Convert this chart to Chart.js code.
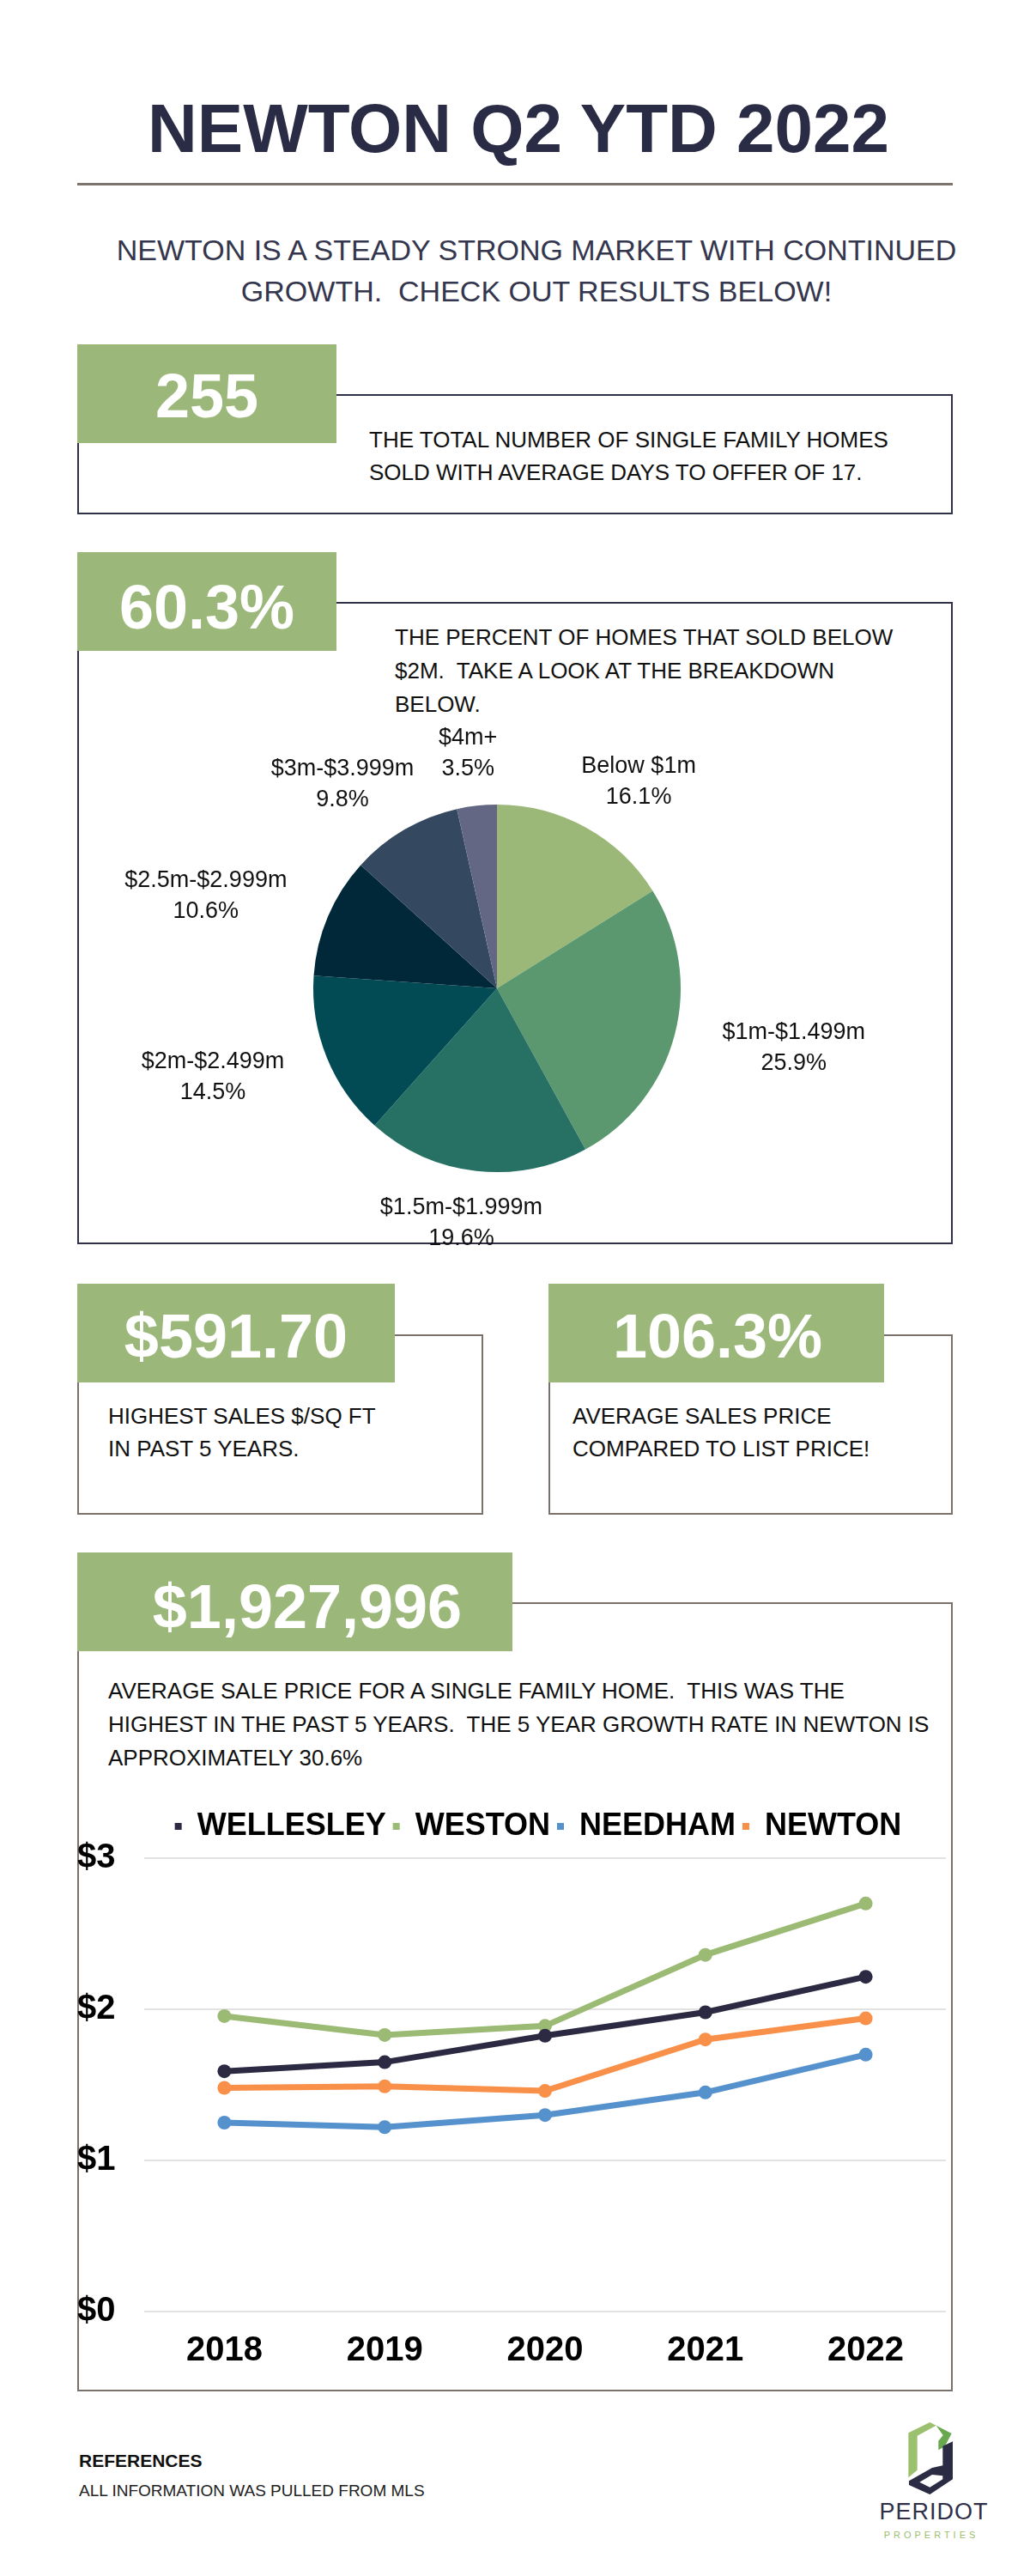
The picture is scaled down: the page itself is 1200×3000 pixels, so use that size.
<!DOCTYPE html>
<html>
<head>
<meta charset="utf-8">
<title>Newton Q2 YTD 2022</title>
<script src="https://cdn.jsdelivr.net/npm/chart.js@4.4.1/dist/chart.umd.min.js"></script>
<style>
  body { margin: 0; background: #fff; }
  #page { position: relative; width: 1200px; height: 3000px; overflow: hidden;
          font-family: "Liberation Sans", Arial, sans-serif; color: #111; }
  .txt { position: absolute; white-space: pre; }
  .frame { position: absolute; box-sizing: border-box; border: 2px solid #2f3148; }
  .frame.taupe { border-color: #7b716b; }
  .tag { position: absolute; background: #9bb87a; }
  .big { position: absolute; width: 600px; text-align: center; color: #fff;
         font-weight: bold; font-size: 72px; line-height: 72px; white-space: pre; }
  .body26 { font-size: 26px; color: #111; }
  canvas { position: absolute; }
</style>
</head>
<body>
<div id="page">
  <div class="txt" style="left:0;top:110px;width:1208px;text-align:center;font-size:80px;line-height:80px;font-weight:bold;color:#2a2b45;">NEWTON Q2 YTD 2022</div>
  <div style="position:absolute;left:90px;top:213px;width:1020px;height:3px;background:#7d736d;"></div>
  <div class="txt" style="left:0;top:267px;width:1250px;text-align:center;font-size:34px;line-height:48px;color:#34364d;">NEWTON IS A STEADY STRONG MARKET WITH CONTINUED
GROWTH.  CHECK OUT RESULTS BELOW!</div>

  <!-- 255 -->
  <div class="frame" style="left:90px;top:459px;width:1020px;height:140px;"></div>
  <div class="tag" style="left:90px;top:401px;width:302px;height:115px;"></div>
  <div class="big" style="left:-59px;top:425px;">255</div>
  <div class="txt body26" style="left:430px;top:493px;line-height:38px;">THE TOTAL NUMBER OF SINGLE FAMILY HOMES
SOLD WITH AVERAGE DAYS TO OFFER OF 17.</div>

  <!-- 60.3% -->
  <div class="frame" style="left:90px;top:701px;width:1020px;height:748px;"></div>
  <div class="tag" style="left:90px;top:643px;width:302px;height:115px;"></div>
  <div class="big" style="left:-59px;top:671px;">60.3%</div>
  <div class="txt body26" style="left:460px;top:723px;line-height:39px;">THE PERCENT OF HOMES THAT SOLD BELOW
$2M.  TAKE A LOOK AT THE BREAKDOWN
BELOW.</div>
  <canvas id="pieChart" width="960" height="660" style="left:99px;top:821px;width:960px;height:660px;"></canvas>

  <!-- $591.70 -->
  <div class="frame taupe" style="left:90px;top:1554px;width:473px;height:210px;"></div>
  <div class="tag" style="left:90px;top:1495px;width:370px;height:115px;"></div>
  <div class="big" style="left:-25px;top:1520px;">$591.70</div>
  <div class="txt body26" style="left:126px;top:1630px;line-height:38px;">HIGHEST SALES $/SQ FT
IN PAST 5 YEARS.</div>

  <!-- 106.3% -->
  <div class="frame taupe" style="left:639px;top:1554px;width:471px;height:210px;"></div>
  <div class="tag" style="left:639px;top:1495px;width:391px;height:115px;"></div>
  <div class="big" style="left:536px;top:1520px;">106.3%</div>
  <div class="txt body26" style="left:667px;top:1630px;line-height:38px;">AVERAGE SALES PRICE
COMPARED TO LIST PRICE!</div>

  <!-- $1,927,996 -->
  <div class="frame taupe" style="left:90px;top:1866px;width:1020px;height:919px;"></div>
  <div class="tag" style="left:90px;top:1808px;width:507px;height:115px;"></div>
  <div class="big" style="left:58px;top:1835px;">$1,927,996</div>
  <div class="txt body26" style="left:126px;top:1950px;line-height:39px;">AVERAGE SALE PRICE FOR A SINGLE FAMILY HOME.  THIS WAS THE
HIGHEST IN THE PAST 5 YEARS.  THE 5 YEAR GROWTH RATE IN NEWTON IS
APPROXIMATELY 30.6%</div>
  <canvas id="lineChart" width="1020" height="690" style="left:90px;top:2095px;width:1020px;height:690px;"></canvas>

  <!-- footer -->
  <div class="txt" style="left:92px;top:2855px;font-size:21px;line-height:21px;font-weight:bold;color:#111;">REFERENCES</div>
  <div class="txt" style="left:92px;top:2891px;font-size:19px;line-height:19px;color:#222;">ALL INFORMATION WAS PULLED FROM MLS</div>

  <svg style="position:absolute;left:1050px;top:2815px;" width="70" height="100" viewBox="210 45 210 300">
    <polygon points="235,100 310,63 332,74 266,110 266,230 235,256" fill="#9bc06e"/>
    <polygon points="310,63 386,102 362,148 340,160 340,128 356,108 332,74" fill="#6aa84f"/>
    <polygon points="390,130 390,262 310,315 237,282 237,268 318,222 355,214 355,146" fill="#2b2b43"/>
    <polygon points="274,272 318,246 355,250 355,262 310,290" fill="#ffffff"/>
  </svg>
  <div class="txt" style="left:988px;top:2912px;width:200px;text-align:center;font-size:27px;line-height:27px;color:#2f3048;letter-spacing:1px;">PERIDOT</div>
  <div class="txt" style="left:985px;top:2947px;width:200px;text-align:center;font-size:11px;line-height:11px;color:#9bbf6e;letter-spacing:4px;">PROPERTIES</div>
</div>

<script>
// price band breakdown (pie)
const priceBands = ['Below $1m', '$1m-$1.499m', '$1.5m-$1.999m', '$2m-$2.499m', '$2.5m-$2.999m', '$3m-$3.999m', '$4m+'];
const bandShares = [16.1, 25.9, 19.6, 14.5, 10.6, 9.8, 3.5];
const bandColors = ['#9bb878', '#5b976f', '#277064', '#034b54', '#012838', '#34485f', '#646783'];

// average sale price, $ millions
const years = ['2018', '2019', '2020', '2021', '2022'];
const wellesley = [1.59, 1.65, 1.825, 1.98, 2.215];
const weston = [1.955, 1.83, 1.89, 2.36, 2.70];
const needham = [1.25, 1.22, 1.30, 1.45, 1.70];
const newton = [1.48, 1.49, 1.46, 1.80, 1.94];
const townNames = ['WELLESLEY', 'WESTON', 'NEEDHAM', 'NEWTON'];
const townColors = ['#2b2a42', '#9bba74', '#5592cd', '#f9904a'];

Chart.defaults.font.family = '"Liberation Sans", Arial, sans-serif';
Chart.defaults.animation = false;

// labels outside each slice, roughly like Excel's "best fit"
const pieLabels = {
    id: 'pieLabels',
    afterDatasetsDraw(chart) {
        const ctx = chart.ctx;
        const meta = chart.getDatasetMeta(0);
        const lh = 36;
        ctx.save();
        ctx.font = '27px "Liberation Sans", Arial, sans-serif';
        ctx.fillStyle = '#111';
        ctx.textAlign = 'center';
        ctx.textBaseline = 'middle';
        meta.data.forEach((arc, i) => {
            const p = arc.getProps(['x', 'y', 'startAngle', 'endAngle', 'outerRadius'], true);
            const mid = (p.startAngle + p.endAngle) / 2;
            const cos = Math.cos(mid), sin = Math.sin(mid);
            const lines = [priceBands[i], bandShares[i].toFixed(1) + '%'];
            const w = Math.max(...lines.map(t => ctx.measureText(t).width));
            const h = lines.length * lh;
            const ax = p.x + (p.outerRadius + 60) * cos;
            const ay = p.y + (p.outerRadius + 25) * sin;
            const cx = ax + cos * w / 2;
            const cy = ay + sin * h / 2;
            lines.forEach((t, k) => ctx.fillText(t, cx, cy - h / 2 + lh / 2 + k * lh));
        });
        ctx.restore();
    }
};

new Chart(document.getElementById('pieChart').getContext('2d'), {
    type: 'pie',
    data: {
        labels: priceBands,
        datasets: [{
            data: bandShares,
            backgroundColor: bandColors,
            borderWidth: 0,
            radius: 214
        }]
    },
    options: {
        responsive: false,
        plugins: {
            legend: { display: false },
            tooltip: { enabled: false }
        }
    },
    plugins: [pieLabels]
});

// fixed legend height so the plot top lands on the $3 line
const legendFit = {
    id: 'legendFit',
    beforeInit(chart) {
        const origFit = chart.legend.fit;
        chart.legend.fit = function () {
            origFit.bind(chart.legend)();
            this.height = 63;
        };
    },
    afterLayout(chart) {
        chart.legend.left += 27;
        chart.legend.right += 27;
    }
};

const series = [wellesley, weston, needham, newton];

new Chart(document.getElementById('lineChart').getContext('2d'), {
    type: 'line',
    data: {
        labels: years,
        datasets: series.map((vals, i) => ({
            label: townNames[i],
            data: vals,
            borderColor: townColors[i],
            backgroundColor: townColors[i],
            pointBackgroundColor: townColors[i],
            pointBorderWidth: 0,
            pointRadius: 8,
            borderWidth: 7,
            tension: 0
        }))
    },
    options: {
        responsive: false,
        layout: { padding: { top: 6 } },
        plugins: {
            tooltip: { enabled: false },
            legend: {
                position: 'top',
                labels: {
                    color: '#000',
                    boxWidth: 8,
                    boxHeight: 8,
                    padding: 8,
                    font: { size: 36, weight: 'bold' },
                    generateLabels(chart) {
                        return Chart.defaults.plugins.legend.labels.generateLabels(chart)
                            .map(l => Object.assign(l, { lineWidth: 0 }));
                    }
                }
            }
        },
        scales: {
            x: {
                offset: true,
                grid: { display: false, drawTicks: false },
                border: { display: false },
                ticks: { color: '#000', padding: 22, font: { size: 40, weight: 'bold' } },
                afterFit(scale) { scale.height = 93; }
            },
            y: {
                min: 0,
                max: 3,
                grid: { color: '#e2e2e2', lineWidth: 2, drawTicks: false },
                border: { display: false },
                ticks: {
                    stepSize: 1,
                    color: '#000',
                    crossAlign: 'far',
                    font: { size: 40, weight: 'bold' },
                    callback: v => '$' + v
                },
                afterFit(scale) { scale.width = 78; }
            }
        }
    },
    plugins: [legendFit]
});
</script>
</body>
</html>
